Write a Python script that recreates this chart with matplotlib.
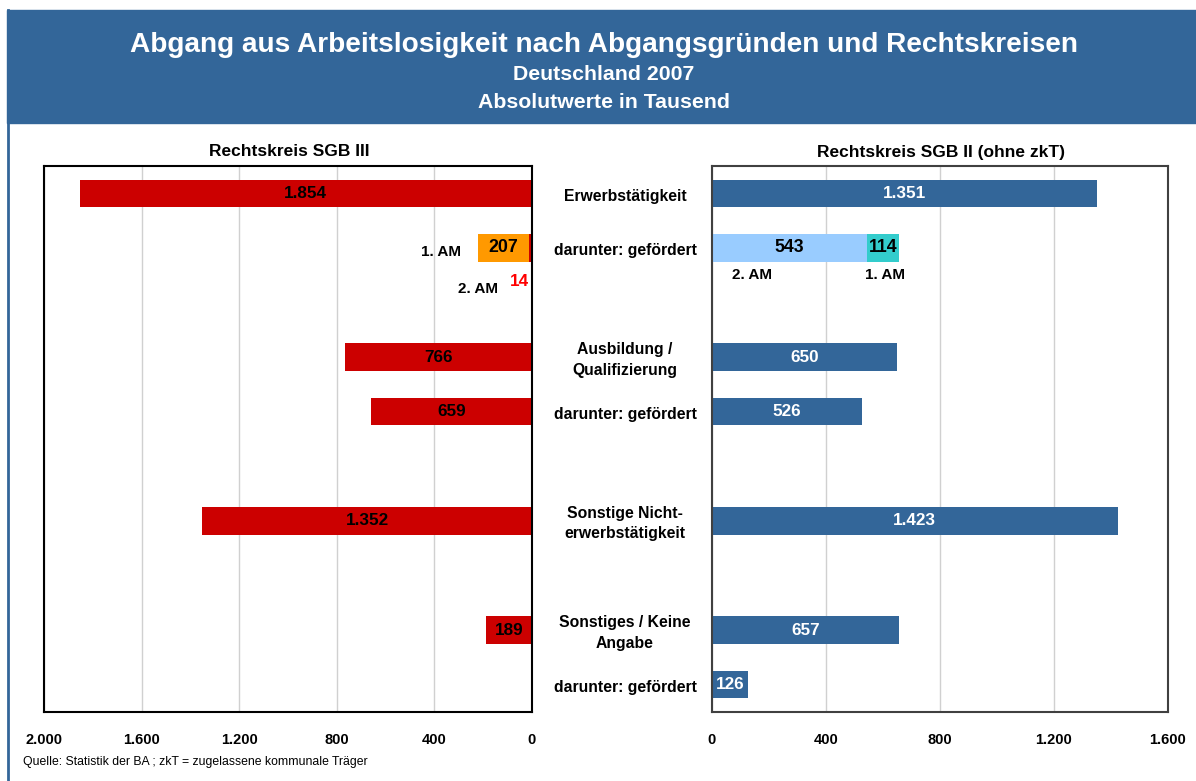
import numpy as np
import matplotlib
matplotlib.use("Agg")
import matplotlib.pyplot as plt
from matplotlib.patches import Rectangle
from matplotlib.lines import Line2D

plt.rcParams['font.family'] = ['Liberation Sans', 'DejaVu Sans']

# ---------------- data ----------------
categories = ["Erwerbstätigkeit", "darunter: gefördert", "",
              "Ausbildung /\nQualifizierung", "darunter: gefördert", "",
              "Sonstige Nicht-\nerwerbstätigkeit", "",
              "Sonstiges / Keine\nAngabe", "darunter: gefördert"]
nan = np.nan
sgb3_values = [1854, nan, nan, 766, 659, nan, 1352, nan, 189, nan]
sgb2_values = [1351, nan, nan, 650, 526, nan, 1423, nan, 657, 126]
# gefördert (Erwerbstätigkeit) split by Arbeitsmarkt
sgb3_am2 = 14
sgb3_am1 = 207
sgb2_am2 = 543
sgb2_am1 = 114
left_ticks = [0, 400, 800, 1200, 1600, 2000]
right_ticks = [0, 400, 800, 1200, 1600]

title = "Abgang aus Arbeitslosigkeit nach Abgangsgründen und Rechtskreisen"
subtitle1 = "Deutschland 2007"
subtitle2 = "Absolutwerte in Tausend"
left_title = "Rechtskreis SGB III"
right_title = "Rechtskreis SGB II (ohne zkT)"
source = "Quelle: Statistik der BA ; zkT = zugelassene kommunale Träger"

RED = "#CC0000"
ORANGE = "#FF9900"
LBLUE = "#99CCFF"
TEAL = "#33CCCC"
BLUE = "#336699"


def fmt(v):
    return f"{int(v):,}".replace(",", ".")


W, H = 1196, 781
fig = plt.figure(figsize=(W / 100, H / 100), dpi=100)
fig.patch.set_facecolor("white")


def px(x, y):
    return x / W, 1 - y / H


# banner and left border
fig.patches.append(Rectangle((7 / W, 1 - 123 / H), 1 - 7 / W, 113 / H,
                             transform=fig.transFigure, color=BLUE, zorder=0))
fig.lines.append(Line2D([7.5 / W, 7.5 / W], [0, 1 - 10 / H],
                        transform=fig.transFigure, color=BLUE, lw=2))

fig.text(*px(604, 45), title, color="white", fontsize=20.2, fontweight="bold",
         ha="center", va="center")
fig.text(*px(604, 75), subtitle1, color="white", fontsize=15.3, fontweight="bold",
         ha="center", va="center")
fig.text(*px(604, 102), subtitle2, color="white", fontsize=15.3, fontweight="bold",
         ha="center", va="center")

top, bot = 166, 712
axL = fig.add_axes([44 / W, 1 - bot / H, (532 - 44) / W, (bot - top) / H])
axR = fig.add_axes([712 / W, 1 - bot / H, (1168 - 712) / W, (bot - top) / H])

ypos = np.arange(len(categories))
bh = 0.5

for ax, ticks, lim in ((axL, left_ticks, (2000, 0)), (axR, right_ticks, (0, 1600))):
    ax.set_xlim(*lim)
    ax.set_ylim(len(categories) - 0.5, -0.5)
    ax.set_xticks(ticks)
    ax.set_xticklabels([fmt(t) for t in ticks], fontweight="bold", fontsize=10.5)
    ax.tick_params(axis="x", length=0, pad=15)
    ax.set_yticks([])
    ax.grid(axis="x", color="#D0D0D0", lw=1)
    ax.set_axisbelow(True)

for s in axL.spines.values():
    s.set_color("black"); s.set_linewidth(1.5)
for s in axR.spines.values():
    s.set_color("#404040"); s.set_linewidth(1.5)

# left bars
vals3 = np.array(sgb3_values, dtype=float)
axL.barh(ypos, np.nan_to_num(vals3), height=bh, color=RED, zorder=2)
for y, v in zip(ypos, vals3):
    if not np.isnan(v):
        axL.text(v / 2, y, fmt(v), ha="center", va="center", fontsize=12.3,
                 fontweight="bold", color="black", zorder=3)
axL.barh(1, sgb3_am2, height=bh, color=RED, zorder=2)
axL.barh(1, sgb3_am1, left=sgb3_am2, height=bh, color=ORANGE, zorder=2)
axL.text(sgb3_am2 + sgb3_am1 / 2, 1, fmt(sgb3_am1), ha="center", va="center",
         fontsize=12.8, fontweight="bold", color="black", zorder=3)
axL.text(sgb3_am2 + sgb3_am1 + 70, 1.075, "1. AM", ha="right", va="center",
         fontsize=11, fontweight="bold")
axL.text(139, 1.75, "2. AM", ha="right", va="center",
         fontsize=11, fontweight="bold")
axL.text(53, 1.61, fmt(sgb3_am2), ha="center", va="center",
         fontsize=12.3, fontweight="bold", color="#FF0000")

# right bars
vals2 = np.array(sgb2_values, dtype=float)
axR.barh(ypos, np.nan_to_num(vals2), height=bh, color=BLUE, zorder=2)
for y, v in zip(ypos, vals2):
    if not np.isnan(v):
        axR.text(v / 2, y, fmt(v), ha="center", va="center", fontsize=12.3,
                 fontweight="bold", color="white", zorder=3)
axR.barh(1, sgb2_am2, height=bh, color=LBLUE, zorder=2)
axR.barh(1, sgb2_am1, left=sgb2_am2, height=bh, color=TEAL, zorder=2)
axR.text(sgb2_am2 / 2, 1, fmt(sgb2_am2), ha="center", va="center",
         fontsize=12.8, fontweight="bold", color="black", zorder=3)
axR.text(sgb2_am2 + sgb2_am1 / 2, 1, fmt(sgb2_am1), ha="center", va="center",
         fontsize=12.8, fontweight="bold", color="black", zorder=3)
axR.text(140, 1.5, "2. AM", ha="center", va="center", fontsize=11, fontweight="bold")
axR.text(608, 1.5, "1. AM", ha="center", va="center", fontsize=11, fontweight="bold")

# category labels in the middle
inv = fig.transFigure.inverted()
for y, c in zip(ypos, categories):
    if c:
        yy = axL.transData.transform((0, y + 0.05))[1]
        fig.text(625 / W, inv.transform((0, yy))[1],
                 c, ha="center", va="center", fontsize=11.3, fontweight="bold",
                 linespacing=1.45)

fig.text(*px(289, 152), left_title, ha="center", va="center", fontsize=12.5, fontweight="bold")
fig.text(*px(941, 152), right_title, ha="center", va="center", fontsize=12.5, fontweight="bold")
fig.text(*px(23, 762), source, ha="left", va="center", fontsize=8.8)

fig.savefig("out.png", dpi=100, facecolor="white")
